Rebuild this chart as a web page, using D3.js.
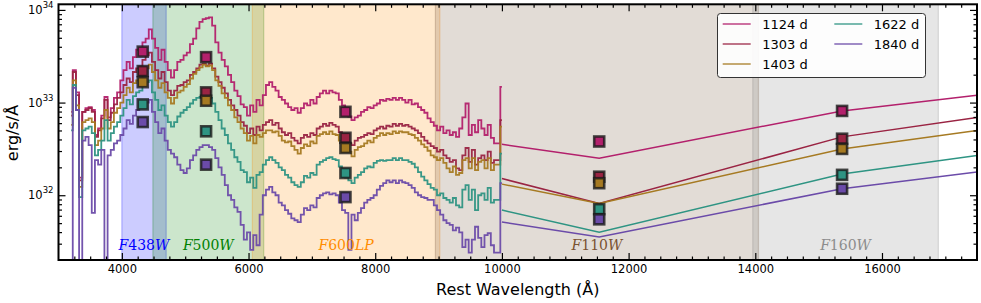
<!DOCTYPE html>
<html>
<head>
<meta charset="utf-8">
<script src="https://cdnjs.cloudflare.com/ajax/libs/d3/7.8.5/d3.min.js"></script>
<style>
  body { margin: 0; background: #fff; }
  svg { display: block; font-family: 'DejaVu Sans', sans-serif; }
</style>
</head>
<body>
<svg id="chart"></svg>
<script>
const w = 981;
const h = 303;

// epochs (legend)
const epochs = ['1124 d', '1303 d', '1403 d', '1622 d', '1840 d'];

// optical spectra: wavelength grid (Å) and log10 L_lambda (erg/s/Å)
const wave = [
  3200, 3250, 3300, 3350, 3400, 3450, 3500, 3550, 3600, 3650,
  3700, 3750, 3800, 3850, 3900, 3950, 4000, 4050, 4100, 4150,
  4200, 4250, 4300, 4350, 4400, 4450, 4500, 4550, 4600, 4650,
  4700, 4750, 4800, 4850, 4900, 4950, 5000, 5050, 5100, 5150,
  5200, 5250, 5300, 5350, 5400, 5450, 5500, 5550, 5600, 5650,
  5700, 5750, 5800, 5850, 5900, 5950, 6000, 6050, 6100, 6150,
  6200, 6250, 6300, 6350, 6400, 6450, 6500, 6550, 6600, 6650,
  6700, 6750, 6800, 6850, 6900, 6950, 7000, 7050, 7100, 7150,
  7200, 7250, 7300, 7350, 7400, 7450, 7500, 7550, 7600, 7650,
  7700, 7750, 7800, 7850, 7900, 7950, 8000, 8050, 8100, 8150,
  8200, 8250, 8300, 8350, 8400, 8450, 8500, 8550, 8600, 8650,
  8700, 8750, 8800, 8850, 8900, 8950, 9000, 9050, 9100, 9150,
  9200, 9250, 9300, 9350, 9400, 9450, 9500, 9550, 9600, 9650,
  9700, 9750, 9800, 9850, 9900, 9950, 10000
];

const spec1124 = [
  32.90, 33.35, 33.11, 32.19, 32.90, 32.94, 32.95, 32.92, 32.65, 32.72,
  32.86, 33.06, 32.84, 32.94, 33.05, 33.11, 33.24, 33.35, 33.44, 33.37,
  33.49, 33.57, 33.54, 33.65, 33.69, 33.79, 33.69, 33.59, 33.46, 33.57,
  33.44, 33.35, 33.27, 33.35, 33.44, 33.46, 33.51, 33.54, 33.63, 33.69,
  33.80, 33.87, 33.90, 33.91, 33.92, 33.83, 33.65, 33.54, 33.46, 33.39,
  33.30, 33.22, 33.13, 33.07, 32.98, 32.95, 32.86, 32.97, 32.90, 33.03,
  32.97, 33.08, 33.19, 33.22, 33.17, 33.13, 33.06, 33.03, 32.99, 32.95,
  32.92, 32.94, 32.89, 32.94, 32.99, 32.97, 33.03, 32.99, 33.06, 33.10,
  33.13, 33.10, 33.13, 33.11, 33.10, 33.03, 32.97, 32.89, 32.85, 32.81,
  32.84, 32.86, 32.90, 32.92, 32.95, 32.94, 32.97, 32.99, 33.03, 33.02,
  33.04, 33.03, 33.05, 33.03, 33.05, 33.03, 33.00, 33.03, 32.98, 32.99,
  32.95, 32.92, 32.89, 32.83, 32.79, 32.75, 32.70, 32.74, 32.67, 32.70,
  32.65, 32.68, 32.63, 32.72, 32.84, 32.99, 32.65, 32.76, 32.68, 32.81,
  32.72, 32.65, 32.76, 32.62, 32.56, 32.56, 33.17
];

const spec1303 = [
  32.86, 33.33, 33.08, 32.16, 32.90, 32.92, 32.94, 32.90, 32.63, 32.70,
  32.83, 33.03, 32.81, 32.89, 32.98, 33.05, 33.11, 33.19, 33.26, 33.22,
  33.33, 33.37, 33.39, 33.46, 33.51, 33.54, 33.44, 33.35, 33.26, 33.33,
  33.22, 33.13, 33.08, 33.13, 33.18, 33.19, 33.22, 33.24, 33.30, 33.33,
  33.37, 33.41, 33.42, 33.40, 33.42, 33.37, 33.28, 33.22, 33.16, 33.10,
  33.03, 32.97, 32.92, 32.86, 32.79, 32.75, 32.67, 32.72, 32.65, 32.74,
  32.70, 32.76, 32.79, 32.81, 32.76, 32.78, 32.72, 32.68, 32.65, 32.67,
  32.62, 32.59, 32.56, 32.62, 32.65, 32.63, 32.67, 32.65, 32.72, 32.74,
  32.77, 32.75, 32.78, 32.76, 32.74, 32.68, 32.63, 32.57, 32.56, 32.54,
  32.59, 32.62, 32.63, 32.65, 32.67, 32.66, 32.70, 32.72, 32.74, 32.72,
  32.75, 32.74, 32.77, 32.75, 32.77, 32.75, 32.76, 32.74, 32.72, 32.70,
  32.67, 32.63, 32.59, 32.56, 32.53, 32.51, 32.47, 32.49, 32.43, 32.40,
  32.36, 32.38, 32.29, 32.27, 32.43, 32.51, 32.36, 32.49, 32.33, 32.40,
  32.43, 32.38, 32.47, 32.35, 32.38, 32.38, 32.81
];

const spec1403 = [
  32.76, 33.24, 32.97, 32.09, 32.79, 32.81, 32.83, 32.79, 32.54, 32.59,
  32.72, 32.92, 32.72, 32.79, 32.89, 32.94, 33.00, 33.08, 33.16, 33.11,
  33.21, 33.24, 33.26, 33.33, 33.37, 33.41, 33.33, 33.24, 33.16, 33.21,
  33.11, 33.05, 32.99, 33.05, 33.11, 33.13, 33.17, 33.20, 33.26, 33.31,
  33.35, 33.38, 33.41, 33.39, 33.40, 33.35, 33.24, 33.18, 33.10, 33.05,
  32.97, 32.92, 32.84, 32.79, 32.72, 32.67, 32.59, 32.64, 32.56, 32.65,
  32.63, 32.67, 32.70, 32.70, 32.68, 32.69, 32.64, 32.59, 32.57, 32.58,
  32.53, 32.49, 32.45, 32.51, 32.55, 32.53, 32.58, 32.56, 32.64, 32.66,
  32.68, 32.66, 32.69, 32.66, 32.65, 32.59, 32.54, 32.49, 32.47, 32.42,
  32.49, 32.52, 32.53, 32.56, 32.59, 32.57, 32.62, 32.64, 32.67, 32.65,
  32.67, 32.66, 32.69, 32.67, 32.69, 32.68, 32.68, 32.66, 32.65, 32.62,
  32.59, 32.55, 32.52, 32.48, 32.43, 32.41, 32.38, 32.40, 32.35, 32.29,
  32.25, 32.31, 32.22, 32.24, 32.38, 32.40, 32.29, 32.40, 32.27, 32.36,
  32.38, 32.29, 32.40, 32.27, 32.33, 32.33, 32.74
];

const spec1622 = [
  32.70, 33.19, 32.92, 31.98, 32.70, 32.72, 32.74, 32.67, 32.43, 32.49,
  32.59, 32.81, 32.59, 32.67, 32.74, 32.79, 32.86, 32.94, 33.03, 32.98,
  33.07, 33.11, 33.13, 33.19, 33.22, 33.24, 33.11, 33.03, 32.92, 32.97,
  32.86, 32.79, 32.74, 32.79, 32.85, 32.89, 32.92, 32.95, 32.99, 33.03,
  33.05, 33.06, 33.07, 33.06, 33.05, 32.99, 32.90, 32.81, 32.72, 32.65,
  32.56, 32.49, 32.41, 32.36, 32.27, 32.25, 32.14, 32.19, 32.08, 32.22,
  32.25, 32.33, 32.38, 32.41, 32.38, 32.35, 32.30, 32.27, 32.22, 32.19,
  32.14, 32.11, 32.09, 32.14, 32.21, 32.19, 32.24, 32.22, 32.33, 32.36,
  32.38, 32.40, 32.41, 32.39, 32.38, 32.31, 32.25, 32.19, 32.16, 32.13,
  32.19, 32.22, 32.25, 32.29, 32.31, 32.30, 32.35, 32.37, 32.38, 32.37,
  32.38, 32.38, 32.40, 32.38, 32.40, 32.38, 32.38, 32.36, 32.34, 32.30,
  32.25, 32.20, 32.16, 32.12, 32.08, 32.06, 32.00, 32.02, 31.97, 31.95,
  31.92, 31.97, 31.89, 31.87, 32.06, 32.11, 31.95, 32.06, 31.84, 32.00,
  32.02, 31.95, 32.08, 31.92, 31.95, 31.95, 32.45
];

const spec1840 = [
  30.87, 33.16, 32.92, 30.87, 32.59, 32.63, 32.54, 31.81, 32.38, 32.33,
  32.49, 30.87, 32.43, 32.49, 32.56, 32.59, 32.65, 32.72, 32.81, 32.77,
  32.86, 32.92, 32.94, 32.98, 33.00, 33.03, 32.90, 32.79, 32.67, 32.72,
  32.59, 32.49, 32.45, 32.41, 32.33, 32.27, 32.24, 32.29, 32.38, 32.43,
  32.49, 32.52, 32.54, 32.54, 32.52, 32.49, 32.40, 32.30, 32.22, 32.11,
  32.00, 31.95, 31.87, 31.82, 31.68, 31.52, 31.60, 31.41, 31.57, 31.46,
  31.79, 32.00, 32.06, 32.09, 32.03, 32.00, 31.92, 31.89, 31.84, 31.80,
  31.75, 31.73, 31.71, 31.79, 31.86, 31.84, 31.89, 31.87, 31.97, 32.00,
  32.02, 32.03, 32.01, 32.02, 32.00, 31.92, 31.84, 31.81, 31.41, 31.79,
  31.73, 31.81, 31.86, 31.92, 31.95, 31.97, 32.00, 32.06, 32.10, 32.13,
  32.16, 32.14, 32.16, 32.13, 32.16, 32.14, 32.13, 32.11, 32.08, 32.03,
  32.00, 31.98, 31.97, 31.95, 31.95, 31.89, 31.84, 31.79, 31.73, 31.70,
  31.68, 31.62, 31.65, 31.60, 31.44, 31.52, 31.38, 31.52, 31.66, 31.54,
  31.44, 31.57, 31.59, 31.46, 31.38, 31.38, 32.13
];

// near-IR model lines: wavelength (Å) and log10 L_lambda
const nirWave = [10000, 11536, 15370, 17500];
const nir1124 = [32.55, 32.40, 32.91, 33.08];
const nir1303 = [32.18, 31.91, 32.63, 32.84];
const nir1403 = [32.12, 31.91, 32.50, 32.70];
const nir1622 = [31.84, 31.60, 32.23, 32.43];
const nir1840 = [31.71, 31.55, 32.07, 32.25];

// photometry: filter pivot wavelength (Å) and log10 L_lambda
const photWave = [4330, 5330, 7530, 11536, 15370];
const phot1124 = [33.55, 33.49, 32.90, 32.58, 32.91];
const phot1303 = [33.34, 33.11, 32.62, 32.20, 32.61];
const phot1403 = [33.22, 33.02, 32.51, 32.13, 32.50];
const phot1622 = [32.98, 32.69, 32.24, 31.85, 32.22];
const phot1840 = [32.79, 32.33, 31.98, 31.74, 32.07];

// filter bands (Å)
const filters = ['F438W', 'F500W', 'F600LP', 'F110W', 'F160W'];
const filterLo = [4000, 4490, 6060, 8950, 13960];
const filterHi = [4700, 6240, 9020, 14050, 16890];

const xTicks = [4000, 6000, 8000, 10000, 12000, 14000, 16000];
const yTicks = [1e32, 1e33, 1e34];

const colors = ['#b3206c', '#9a2443', '#a67a22', '#2e9483', '#6b4ba9'];
const bandColors = ['#0000ff', '#008000', '#ff8c00', '#6e5032', '#808080'];
const bandText = ['#0000ff', '#008000', '#ff8c00', '#7a5230', '#8c8c8c'];

const specs = [spec1124, spec1303, spec1403, spec1622, spec1840];
const nirs = [nir1124, nir1303, nir1403, nir1622, nir1840];
const phots = [phot1124, phot1303, phot1403, phot1622, phot1840];

const pLeft = 58.5, pRight = 977, pTop = 4.3, pBottom = 260;

const svg = d3.select('#chart').attr('width', w).attr('height', h);
svg.append('rect').attr('width', w).attr('height', h).attr('fill', '#fff');

const x = d3.scaleLinear().domain([3000, 17500]).range([pLeft, pRight]);
const y = d3.scaleLog().domain([2e31, 1.15e34]).range([pBottom, pTop]);
const ly = v => y(Math.pow(10, v));

svg.append('clipPath').attr('id', 'clip')
  .append('rect')
  .attr('x', pLeft).attr('y', pTop)
  .attr('width', pRight - pLeft).attr('height', pBottom - pTop);

const plot = svg.append('g').attr('clip-path', 'url(#clip)');

// filter bands
filters.forEach((f, i) => {
  plot.append('rect')
    .attr('x', x(filterLo[i]))
    .attr('y', pTop)
    .attr('width', x(filterHi[i]) - x(filterLo[i]))
    .attr('height', pBottom - pTop)
    .attr('fill', bandColors[i])
    .attr('fill-opacity', 0.2)
    .attr('stroke', bandColors[i])
    .attr('stroke-opacity', 0.25)
    .attr('stroke-width', 1.2);
});

// spectra
const specLine = d3.line()
  .x(d => x(d[0]))
  .y(d => ly(d[1]))
  .curve(d3.curveStep);

specs.forEach((s, i) => {
  plot.append('path')
    .datum(wave.map((wv, j) => [wv, s[j]]))
    .attr('d', specLine)
    .attr('fill', 'none')
    .attr('stroke', colors[i])
    .attr('stroke-width', 1.8)
    .attr('stroke-opacity', 0.95);
});

// near-IR lines
const nirLine = d3.line().x(d => x(d[0])).y(d => ly(d[1]));
nirs.forEach((s, i) => {
  plot.append('path')
    .datum(nirWave.map((wv, j) => [wv, s[j]]))
    .attr('d', nirLine)
    .attr('fill', 'none')
    .attr('stroke', colors[i])
    .attr('stroke-width', 1.5);
});

// photometry squares
phots.forEach((s, i) => {
  plot.selectAll(null)
    .data(photWave.map((wv, j) => [wv, s[j]]))
    .enter()
    .append('rect')
    .attr('x', d => x(d[0]) - 5)
    .attr('y', d => ly(d[1]) - 5)
    .attr('width', 10)
    .attr('height', 10)
    .attr('fill', colors[i])
    .attr('stroke', '#1a1a1a')
    .attr('stroke-opacity', 0.8)
    .attr('stroke-width', 2.6);
});

// filter labels
filters.forEach((f, i) => {
  const t = plot.append('text')
    .attr('x', x((filterLo[i] + filterHi[i]) / 2))
    .attr('y', 250)
    .attr('text-anchor', 'middle')
    .attr('fill', bandText[i])
    .style('font-family', "'DejaVu Serif', serif")
    .style('font-size', '14px');
  f.match(/[A-Z]+|\d+/g).forEach(p => {
    t.append('tspan')
      .style('font-style', /\d/.test(p) ? 'normal' : 'italic')
      .text(p);
  });
});

// axes
const xMinor = d3.range(3250, 17500, 250).filter(v => v % 2000 !== 0);
const yMinor = [];
[1e31, 1e32, 1e33].forEach(b => {
  for (let k = 2; k <= 9; k++) if (b * k > 2e31 && b * k < 1.15e34) yMinor.push(b * k);
});

function styleAxis(g) {
  g.select('.domain').remove();
  g.selectAll('.tick line').attr('stroke', '#000').attr('stroke-width', 1.2);
  g.selectAll('.tick text').attr('fill', '#000').style('font-size', '11.5px')
    .style('font-family', "'DejaVu Sans', sans-serif");
}

svg.append('g').attr('transform', `translate(0,${pBottom})`)
  .call(d3.axisBottom(x).tickValues(xTicks).tickSizeInner(-7).tickSizeOuter(0)
    .tickPadding(5).tickFormat(d3.format('d')))
  .call(styleAxis);
svg.append('g').attr('transform', `translate(0,${pBottom})`)
  .call(d3.axisBottom(x).tickValues(xMinor).tickSizeInner(-3.5).tickSizeOuter(0).tickFormat(''))
  .call(styleAxis);
svg.append('g').attr('transform', `translate(0,${pTop})`)
  .call(d3.axisTop(x).tickValues(xTicks).tickSizeInner(-7).tickSizeOuter(0).tickFormat(''))
  .call(styleAxis);
svg.append('g').attr('transform', `translate(0,${pTop})`)
  .call(d3.axisTop(x).tickValues(xMinor).tickSizeInner(-3.5).tickSizeOuter(0).tickFormat(''))
  .call(styleAxis);

const yAxis = svg.append('g').attr('transform', `translate(${pLeft},0)`)
  .call(d3.axisLeft(y).tickValues(yTicks).tickSizeInner(-7).tickSizeOuter(0).tickPadding(5))
  .call(styleAxis);
yAxis.selectAll('.tick text').each(function (d) {
  const t = d3.select(this);
  t.text(null);
  t.append('tspan').text('10');
  t.append('tspan').attr('dy', '-6px').style('font-size', '8.5px').text(Math.round(Math.log10(d)));
});
svg.append('g').attr('transform', `translate(${pLeft},0)`)
  .call(d3.axisLeft(y).tickValues(yMinor).tickSizeInner(-3.5).tickSizeOuter(0).tickFormat(''))
  .call(styleAxis);
svg.append('g').attr('transform', `translate(${pRight},0)`)
  .call(d3.axisRight(y).tickValues(yTicks).tickSizeInner(-7).tickSizeOuter(0).tickFormat(''))
  .call(styleAxis);
svg.append('g').attr('transform', `translate(${pRight},0)`)
  .call(d3.axisRight(y).tickValues(yMinor).tickSizeInner(-3.5).tickSizeOuter(0).tickFormat(''))
  .call(styleAxis);

// frame
svg.append('rect')
  .attr('x', pLeft).attr('y', pTop)
  .attr('width', pRight - pLeft).attr('height', pBottom - pTop)
  .attr('fill', 'none').attr('stroke', '#000').attr('stroke-width', 2);

// axis titles
svg.append('text')
  .attr('x', (pLeft + pRight) / 2).attr('y', 294.5)
  .attr('text-anchor', 'middle')
  .style('font-size', '16px')
  .text('Rest Wavelength (Å)');
svg.append('text')
  .attr('transform', 'translate(18,133) rotate(-90)')
  .attr('text-anchor', 'middle')
  .style('font-size', '16px')
  .text('erg/s/Å');

// legend
const legend = svg.append('g');
legend.append('rect')
  .attr('x', 717.5).attr('y', 13.5)
  .attr('width', 208).attr('height', 64)
  .attr('rx', 3)
  .attr('fill', '#fff').attr('fill-opacity', 0.9)
  .attr('stroke', '#333').attr('stroke-width', 1);
const legX = [722.7, 834.3];
const legY = [24, 44, 64];
epochs.forEach((e, i) => {
  const col = i < 3 ? 0 : 1;
  const row = i < 3 ? i : i - 3;
  legend.append('line')
    .attr('x1', legX[col]).attr('x2', legX[col] + 28)
    .attr('y1', legY[row]).attr('y2', legY[row])
    .attr('stroke', colors[i]).attr('stroke-width', 1.6).attr('stroke-opacity', 0.8);
  legend.append('text')
    .attr('x', legX[col] + 39.5).attr('y', legY[row] + 5)
    .style('font-size', '13px')
    .text(e);
});
</script>
</body>
</html>
